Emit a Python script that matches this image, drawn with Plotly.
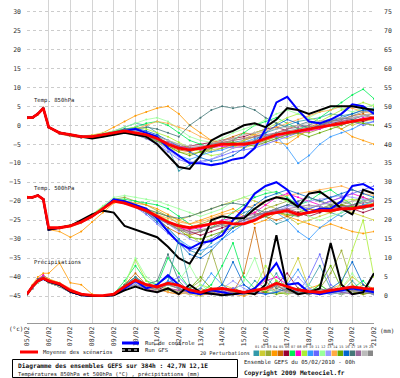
import plotly.graph_objects as go

# ---------------- data ----------------
days = [0, 0.25, 0.5, 0.75, 1, 1.5, 2, 2.5, 3, 3.5, 4, 4.5, 5, 5.5, 6, 6.5, 7, 7.5,
        8, 8.5, 9, 9.5, 10, 10.5, 11, 11.5, 12, 12.5, 13, 13.5, 14, 14.5, 15, 15.5, 16]
date_days = list(range(17))
date_labels = ["05/02", "06/02", "07/02", "08/02", "09/02", "10/02", "11/02", "12/02", "13/02",
               "14/02", "15/02", "16/02", "17/02", "18/02", "19/02", "20/02", "21/02"]
left_ticks = [30, 25, 20, 15, 10, 5, 0, -5, -10, -15, -20, -25, -30, -35, -40, -45]
right_ticks = [75, 70, 65, 60, 55, 50, 45, 40, 35, 30, 25, 20, 15, 10, 5, 0]

member_names = ["01", "02", "03", "04", "05", "06", "07", "08", "09", "10",
                "11", "12", "13", "14", "15", "16", "17", "18", "19", "20"]
member_colors = ["#3399aa", "#cccc33", "#99aa33", "#ff9900", "#cc6600", "#990033", "#00ee55",
                 "#ff00cc", "#aaee33", "#3399ff", "#6666ff", "#99ff99", "#9999ff", "#ffaa44",
                 "#66aa00", "#0066cc", "#447777", "#996699", "#bbbbbb", "#888888"]

# Temperature 850 hPa (deg C)
t850_mean = [2, 2, 3, 4.5, -0.5, -2, -2.5, -3, -3, -2.5, -2, -1.5, -2, -2.5, -3.5, -5, -6, -6.5,
             -6, -5.5, -5, -5, -5, -4.5, -3.5, -2.5, -2, -1.5, -1, -0.5, 0, 0.5, 1, 1.5, 2]
t850_control = [2, 2, 3, 4.5, -0.5, -2, -2.5, -3, -3, -2.5, -2, -1.5, -1, -2, -3, -6, -8, -10,
                -10, -10.5, -10, -9, -8.5, -6, -1, 6, 7.5, 4, 1, 0.5, 1.5, 3, 5.5, 5, 3]
t850_gfs = [2, 2, 3, 4.5, -0.5, -2, -2.5, -3, -3.5, -3, -2.5, -2, -2.5, -3, -5, -8, -11, -11.5,
            -8, -4, -2.5, -1.5, 0, 0.5, -0.5, 1.5, 4.5, 4, 3, 4, 5, 5, 5, 4.5, 4]
t850_members = [
    [2.2, 2.0, 3.2, 4.3, -0.3, -2.2, -2.8, -3.2, -3.0, -2.4, -1.5, -0.5, 0.5, 0.0, -2.0, -6.0, -12.0, -10.5, -8.0, -6.0, -5.0, -4.5, -4.0, -3.0, -2.0, -1.0, 0.0, 1.0, 1.5, 2.0, 3.0, 2.5, 3.0, 4.0, 4.5],
    [1.8, 2.1, 2.8, 4.6, -0.6, -1.8, -2.4, -2.9, -3.1, -2.7, -2.2, -1.8, -2.5, -3.5, -4.5, -6.0, -7.0, -7.5, -7.0, -6.5, -6.0, -5.5, -6.0, -5.0, -4.0, -3.0, -3.5, -2.5, -1.5, -0.5, 0.5, 1.0, 0.0, 1.0, 1.5],
    [2.0, 1.9, 3.0, 4.4, -0.4, -2.0, -2.6, -3.0, -2.8, -2.2, -1.8, -1.0, -1.5, -2.0, -3.0, -4.0, -5.0, -6.0, -6.5, -7.0, -6.0, -5.0, -4.5, -5.0, -4.0, -3.0, -2.0, -1.5, -2.0, -1.0, 0.0, -1.0, 0.5, 1.5, 2.0],
    [2.1, 2.2, 3.1, 4.5, -0.5, -2.1, -2.5, -2.8, -2.6, -2.0, -0.5, 1.0, 2.5, 3.5, 4.5, 5.0, 3.0, 0.0, -2.0, -4.0, -5.0, -5.5, -4.0, -3.0, -3.5, -4.5, -5.0, -3.0, -1.0, 0.0, 1.0, -1.0, -3.0, -4.0, -5.0],
    [1.9, 2.0, 2.9, 4.7, -0.7, -2.3, -2.9, -3.3, -3.2, -2.8, -2.5, -2.0, -2.5, -3.0, -4.0, -5.5, -6.5, -7.0, -6.0, -5.0, -4.0, -3.0, -2.0, -2.5, -3.0, -2.0, -1.0, 0.0, -0.5, 0.5, 1.0, 1.5, 2.5, 3.0, 2.0],
    [2.0, 2.1, 3.0, 4.5, -0.5, -1.9, -2.4, -3.0, -3.1, -2.6, -2.0, -1.5, -1.0, -2.0, -3.5, -5.0, -6.0, -5.5, -5.0, -4.5, -4.0, -3.5, -3.0, -2.0, -1.0, -0.5, -1.5, -2.0, -1.0, 0.0, 0.5, 1.0, 1.5, 1.0, 2.0],
    [2.2, 2.0, 3.1, 4.4, -0.4, -2.0, -2.7, -3.1, -2.9, -2.3, -1.8, -1.2, -0.5, 0.5, 1.0, 0.0, -2.0, -4.0, -5.0, -6.0, -5.0, -4.0, -2.0, 0.0, 1.0, 2.0, 0.5, -1.0, 0.0, 2.0, 4.0, 6.0, 8.0, 9.5, 7.0],
    [2.0, 2.2, 3.0, 4.6, -0.6, -2.1, -2.6, -3.0, -3.0, -2.5, -2.0, -1.7, -2.0, -2.5, -3.5, -4.5, -5.5, -6.0, -6.5, -6.0, -5.5, -6.0, -5.5, -4.5, -3.5, -3.0, -2.5, -2.0, -1.5, -1.0, 0.0, 0.0, 1.0, 2.0, 1.5],
    [1.9, 2.0, 2.9, 4.5, -0.3, -1.9, -2.5, -2.9, -2.8, -2.3, -1.7, -1.0, -0.5, -1.0, -2.0, -3.0, -4.5, -6.0, -7.0, -8.0, -7.5, -6.0, -4.0, -2.0, -1.0, 0.5, 2.0, 3.0, 2.0, 1.0, 2.5, 4.0, 5.0, 6.0, 5.0],
    [2.1, 2.1, 3.1, 4.3, -0.5, -2.0, -2.6, -3.1, -3.0, -2.4, -1.9, -1.3, -1.5, -2.5, -4.0, -6.0, -8.0, -9.0, -8.0, -7.0, -6.5, -5.5, -4.5, -3.5, -2.5, -3.0, -6.0, -10.0, -8.0, -5.0, -3.0, -2.0, -1.0, 0.5, 1.0],
    [2.0, 1.9, 3.0, 4.5, -0.5, -2.2, -2.7, -3.2, -3.2, -2.7, -2.2, -1.8, -2.5, -3.5, -5.0, -7.0, -9.0, -10.0, -9.5, -9.0, -8.0, -7.0, -6.5, -6.0, -5.0, -4.0, -3.0, -2.0, -1.0, -0.5, 0.0, 0.5, 1.0, 0.0, 1.0],
    [2.1, 2.0, 3.1, 4.4, -0.4, -2.0, -2.5, -2.9, -2.7, -2.1, -1.5, -0.5, 0.5, 1.5, 2.0, 1.0, -1.0, -3.0, -4.0, -4.5, -3.5, -2.0, -1.0, 0.0, 1.5, 3.0, 4.0, 3.0, 2.0, 3.5, 5.0, 4.5, 3.5, 4.5, 5.5],
    [2.0, 2.1, 3.0, 4.5, -0.5, -2.0, -2.6, -3.0, -2.9, -2.4, -1.9, -1.5, -2.0, -3.0, -4.5, -6.5, -8.5, -9.5, -10.0, -9.0, -7.5, -6.0, -5.5, -5.0, -4.5, -3.5, -2.5, -1.5, -1.0, -0.5, 0.5, 1.5, 2.0, 2.5, 3.0],
    [1.9, 2.0, 2.9, 4.6, -0.6, -2.1, -2.7, -3.1, -3.1, -2.6, -2.1, -1.6, -1.0, 0.0, 1.0, 0.5, -0.5, -1.5, -3.0, -4.0, -4.5, -4.0, -3.5, -2.5, -1.5, -0.5, 0.5, 1.5, 2.5, 3.5, 4.0, 5.0, 4.5, 3.5, 3.0],
    [2.0, 2.0, 3.0, 4.5, -0.4, -2.0, -2.5, -3.0, -2.9, -2.4, -2.0, -1.6, -2.2, -3.2, -4.2, -5.5, -7.0, -8.0, -7.0, -6.0, -5.0, -4.5, -5.0, -5.5, -4.5, -3.5, -2.5, -2.0, -3.0, -2.0, -1.0, 0.0, 1.0, 0.5, 0.0],
    [2.1, 2.1, 3.0, 4.4, -0.5, -2.1, -2.6, -3.1, -3.0, -2.5, -1.8, -1.0, -0.8, -1.5, -2.5, -4.0, -5.5, -7.0, -8.5, -9.5, -9.0, -8.0, -6.0, -4.0, -2.0, 0.0, 1.5, 0.5, -1.0, 0.0, 1.0, 2.0, 3.0, 4.0, 3.5],
    [2.0, 2.0, 3.0, 4.5, -0.5, -2.0, -2.6, -3.0, -3.0, -2.5, -2.0, -1.5, -1.0, -0.5, -1.0, -2.0, -3.0, 0.0, 2.0, 4.0, 5.0, 4.5, 5.0, 4.0, 2.0, 0.5, -0.5, 0.0, 1.0, 0.5, 1.5, 2.0, 1.5, 2.5, 3.0],
    [1.9, 2.1, 2.9, 4.5, -0.5, -1.9, -2.5, -2.9, -2.9, -2.4, -2.0, -1.5, -2.0, -3.0, -3.5, -4.5, -5.5, -6.0, -5.5, -5.0, -4.5, -4.0, -3.5, -3.0, -2.5, -2.0, -1.0, -0.5, 0.0, 1.0, 1.5, 1.0, 2.0, 2.5, 2.0],
    [2.0, 2.0, 3.1, 4.4, -0.4, -2.0, -2.5, -3.0, -2.9, -2.4, -1.9, -1.4, -1.5, -2.0, -3.0, -4.0, -5.0, -5.5, -5.5, -5.0, -4.0, -3.5, -2.5, -2.0, -1.5, -1.0, -0.5, 0.0, 0.5, 1.0, 1.5, 2.0, 2.0, 2.5, 3.0],
    [2.1, 2.0, 3.0, 4.5, -0.5, -2.1, -2.6, -3.0, -3.0, -2.5, -2.1, -1.7, -2.3, -3.0, -4.0, -5.0, -6.0, -6.5, -6.0, -5.0, -4.5, -5.0, -4.5, -4.0, -3.0, -2.0, -1.5, -1.0, -0.5, 0.0, 1.0, 1.5, 2.5, 3.5, 4.0],
]

# Temperature 500 hPa (deg C)
t500_mean = [-19, -19, -18.5, -19.5, -27, -27, -26.5, -25.5, -24, -22, -20, -20.5, -21.5, -22.5,
             -24, -25.5, -26.5, -27, -26.5, -26, -25.5, -26, -26, -25, -23.5, -23, -22.5, -23.5,
             -23, -22.5, -22.5, -22, -22, -21.5, -21]
t500_control = [-19, -19, -18.5, -19.5, -27.5, -27, -26.5, -25.5, -24, -22, -19.5, -20, -21, -22,
                -24.5, -28, -31, -32.5, -31, -30.5, -29, -25, -22, -18, -16, -15, -17, -21, -23,
                -22, -22, -20, -16, -15.5, -17]
t500_gfs = [-19, -19, -18.5, -19.5, -27.5, -27, -26.5, -25, -23.5, -22.5, -23, -26.5, -27.5,
            -28.5, -29.5, -32, -35, -36.5, -32, -25, -24, -24.5, -24.5, -22, -20, -19, -19.5,
            -21.5, -18, -17.5, -19.5, -22, -23.5, -17, -18]
t500_members = [
    [-19.2, -19, -18.6, -19.4, -27.6, -27.2, -26.6, -25.4, -23.8, -21.8, -19.8, -20, -21, -22.5, -24.5, -27, -30, -33, -34, -31, -28, -25, -23, -22, -24, -26, -25, -23, -22, -21, -23, -24, -22, -21, -22],
    [-18.8, -19.1, -18.4, -19.6, -27.4, -26.8, -26.4, -25.6, -24.2, -22.2, -20.2, -20.5, -21.5, -22, -23, -24, -25, -24, -23, -22, -21, -20, -19, -20, -21, -22, -24, -26, -25, -24, -23, -22, -23, -24, -25],
    [-19, -18.9, -18.5, -19.5, -27.3, -27, -26.3, -25.2, -23.5, -21.5, -19.5, -19, -20, -21, -22.5, -24, -26, -27, -26, -25, -26, -27, -26, -24, -22, -21, -20, -21, -22, -23, -22, -21, -20, -19, -20],
    [-19.1, -19, -18.6, -19.5, -27.5, -28, -29.5, -28, -25.5, -23, -20.5, -20, -20.5, -21, -22, -23.5, -25, -26, -25, -24, -23, -22, -24, -26, -25, -23, -24, -25, -26, -27, -26, -27, -28, -28.5, -28],
    [-18.9, -19.1, -18.5, -19.4, -27.6, -27.1, -26.5, -25.5, -24, -22, -20, -20.5, -21.5, -23, -25, -27, -28.5, -29, -28, -27, -26, -25, -24, -23, -24, -25, -24, -23, -22, -22.5, -23, -22, -21.5, -21, -20.5],
    [-19, -19, -18.5, -19.5, -27.4, -27, -26.5, -25.3, -23.8, -21.9, -19.9, -20.2, -21.2, -22.5, -24, -25.5, -27, -28, -29, -28, -27, -26, -25, -24, -23, -22.5, -22, -23, -24, -23, -22, -21, -22, -23, -22],
    [-19.1, -18.9, -18.5, -19.5, -27.5, -26.9, -26.4, -25.3, -23.6, -21.5, -19.5, -19.5, -20, -20.5, -21, -22, -24, -26, -28, -27, -25, -23, -21, -19, -18, -17.5, -19, -21, -20, -18, -17, -19, -21, -20, -19],
    [-19, -19.1, -18.6, -19.6, -27.6, -27.1, -26.6, -25.6, -24.1, -22.1, -20.1, -20.4, -21.4, -22.6, -24, -25.5, -27, -27.5, -27, -26, -25, -24.5, -24, -23, -21, -19, -18, -19, -20, -21, -20, -19, -18, -19, -20],
    [-19, -19, -18.5, -19.5, -27.5, -27, -26.4, -25.2, -23.6, -21.6, -19.6, -19.8, -20.8, -22, -23.5, -25, -27, -29, -31, -30, -28, -26, -24, -22, -20, -19, -20, -22, -23, -22, -21, -20, -19.5, -20, -21],
    [-19.1, -19, -18.5, -19.5, -27.5, -27.1, -26.5, -25.4, -23.9, -21.9, -19.9, -20.3, -21.3, -23, -25, -27.5, -30, -32, -33, -32, -30, -28, -26, -25, -24, -23, -25, -28, -30, -27, -25, -23, -22, -21, -20],
    [-19, -19, -18.6, -19.4, -27.4, -27, -26.6, -25.5, -24, -22, -20, -20.6, -21.6, -23.5, -26, -28.5, -31, -33, -32, -30, -28, -26, -25, -24, -23, -22, -21, -21.5, -22, -21, -20, -19, -18, -17, -16],
    [-18.9, -19, -18.5, -19.5, -27.5, -27, -26.4, -25.2, -23.5, -21.2, -19, -18.5, -19, -19.5, -20, -21, -22, -23, -24, -23, -22, -20, -19, -18, -17, -18, -20, -22, -24, -25, -24, -23, -22, -20, -21],
    [-19, -19, -18.5, -19.5, -27.5, -27, -26.5, -25.5, -24, -22, -20, -20.5, -21.5, -23, -24.5, -26, -28, -30, -31, -30.5, -29, -27, -25.5, -24.5, -23.5, -22.5, -21.5, -20.5, -20, -19.5, -19, -18.5, -19, -19.5, -20],
    [-19.1, -19, -18.5, -19.5, -27.6, -27.2, -26.8, -25.8, -24.3, -22.3, -20.3, -20.6, -21.4, -22.4, -23.5, -24.5, -25.5, -26, -25.5, -24.5, -23.5, -23, -22, -21, -20, -19, -18.5, -18, -17.5, -17, -16.5, -16, -17, -18, -18.5],
    [-19, -19.1, -18.5, -19.5, -27.5, -27, -26.5, -25.4, -23.8, -21.8, -19.8, -20.1, -21.1, -22.4, -24, -25.5, -27.5, -29.5, -30, -29, -28, -27, -26, -25, -24, -23, -23.5, -24, -23, -22, -21.5, -21, -21.5, -22, -21],
    [-19, -19, -18.5, -19.5, -27.5, -27, -26.5, -25.5, -24, -22, -20, -20.4, -21.4, -23, -25.5, -28, -31, -34, -35, -33, -30, -27, -24, -21, -19, -18, -17, -18, -19, -20, -19, -18, -17, -18, -19],
    [-19, -19, -18.5, -19.5, -27.5, -27, -26.5, -25.4, -23.9, -21.9, -19.9, -20.2, -21.2, -22.2, -23.2, -24, -24.5, -24, -23, -22, -21, -20.5, -21, -22, -23, -22, -21, -20, -19, -20, -21, -22, -21, -20, -19.5],
    [-19, -19, -18.5, -19.5, -27.5, -27, -26.5, -25.5, -24, -22, -20, -20.5, -21.5, -22.8, -24.3, -26, -27.5, -28.5, -28, -27, -26, -25, -24, -23.5, -23, -22.5, -22, -21.5, -21, -21.5, -22, -21.5, -21, -20.5, -20],
    [-19, -19, -18.5, -19.5, -27.5, -27, -26.5, -25.4, -23.9, -21.9, -19.9, -20.3, -21.3, -22.6, -24, -25.5, -26.5, -27, -26.5, -26, -25.5, -25, -24.5, -24, -23.5, -23, -22.5, -22, -21.5, -21, -20.5, -20.5, -20, -20, -19.5],
    [-19, -19, -18.5, -19.5, -27.5, -27, -26.5, -25.5, -24, -22, -20, -20.5, -21.5, -23, -24.5, -26, -27.5, -28, -27.5, -27, -26.5, -26, -25, -24, -23, -22, -23, -24, -23, -22, -21, -20, -21, -22, -21],
]

# Precipitation (mm, right axis)
precip_mean = [0.5, 2.5, 4, 4.7, 4, 3.2, 1.5, 0.5, 0.2, 0.1, 0.5, 2.5, 4.2, 3, 2.4, 3.4, 2.8, 1.6,
               1.0, 1.8, 2.0, 1.5, 1.0, 1.5, 2.0, 3.4, 2.5, 1.6, 1.2, 1.0, 1.5, 2.0, 2.4, 2.0, 1.8]
precip_control = [0.5, 2.5, 4, 4.5, 3.8, 3, 1.2, 0.3, 0, 0, 0.3, 2, 4, 2, 3, 5.5, 3, 1, 0.5, 1.5,
                  1, 0.5, 0.8, 2, 5, 8.7, 3, 3.4, 1, 0.5, 1, 1.5, 2, 1.5, 1]
precip_gfs = [0.5, 2.5, 4, 4.6, 3.8, 3, 1.2, 0.3, 0, 0, 0.2, 1.5, 2.5, 1.5, 1, 2, 0.5, 3, 1, 0.5,
              0.2, 0.5, 1, 0.5, 3, 16, 2, 0.5, 1, 2, 14, 3, 0.5, 1, 6]
precip_members = [
    [0.5, 2, 4, 5, 4, 3, 1, 0.2, 0, 0, 0.5, 3, 5, 2, 1, 4, 15, 3, 1, 0.5, 2, 1, 0.5, 4, 2, 6, 1, 0.5, 3, 8, 2, 1, 4, 1, 0.5],
    [0.4, 2.5, 4.5, 5, 3.5, 2.5, 1, 0.3, 0, 0, 0.3, 2, 3, 2, 3, 2, 1, 0.5, 0, 1, 3, 2, 1, 0.5, 1, 2, 4, 10, 2, 1, 0.5, 2, 5, 3, 1],
    [0.5, 2, 3.5, 4.5, 4, 3, 1.5, 0.5, 0, 0, 0.5, 2.5, 4, 3, 2, 1.5, 1, 2, 4, 12, 3, 1, 0.5, 1, 2, 3, 1, 0.5, 1, 2, 6, 12, 3, 1, 2],
    [0.6, 3, 5, 6, 6, 8.7, 3.5, 3, 0.5, 0, 0.3, 2, 3, 2, 1.5, 2, 1, 0.5, 1, 2, 1, 0.5, 0, 1, 2, 1, 0.5, 1, 2, 3, 1, 0.5, 1, 3, 2],
    [0.5, 2, 4, 5.5, 4.5, 3, 1, 0.2, 0, 0, 0.5, 3, 6, 3, 2, 1, 0.5, 1, 2, 1, 0.5, 1, 6, 18, 4, 1, 0.5, 2, 1, 0.5, 1, 2, 1, 0.5, 1],
    [0.5, 2.5, 4, 4.5, 3.5, 2.5, 1, 0.2, 0, 0, 0.3, 2, 4, 2.5, 1.5, 3, 2, 1, 0.5, 0.5, 1, 2, 1, 0.5, 1, 3, 6, 2, 1, 0.5, 1, 2, 1.5, 1, 0.5],
    [0.4, 2, 3.5, 4.5, 4, 3, 1.5, 0.3, 0, 0, 0.5, 4, 8, 4, 3, 10, 6, 2, 1, 3, 8, 14, 5, 2, 1, 4, 2, 1, 0.5, 3, 1, 0.5, 2, 4, 1],
    [0.5, 2.5, 4.5, 5.5, 4, 2.5, 1, 0.2, 0, 0, 0.3, 2, 3, 2, 1, 2, 1.5, 1, 0.5, 2, 1, 0.5, 1, 2, 4, 5, 3, 1, 0.5, 1, 2, 1, 0.5, 1, 1.5],
    [0.5, 2, 4, 5, 4.5, 3.5, 1.5, 0.4, 0, 0, 0.5, 3, 9.5, 4, 2, 3, 2, 1, 3, 2, 1, 0.5, 1, 2, 8, 4, 2, 1, 0.5, 2, 1, 3, 12, 20, 5],
    [0.5, 2, 4, 4.5, 3.5, 2.5, 1, 0.2, 0, 0, 0.4, 2.5, 5, 3, 2, 4, 3, 1, 2, 6, 3, 1, 0.5, 1, 2, 1, 3, 7, 2, 1, 0.5, 1, 2, 1, 0.5],
    [0.5, 2.5, 4, 5, 4, 3, 1, 0.3, 0, 0, 0.3, 2, 4, 2, 2.5, 3.5, 5, 2, 1, 0.5, 1, 2, 3, 1, 0.5, 1, 2, 1, 5, 11, 3, 1, 0.5, 1, 2],
    [0.5, 2, 3.5, 4.5, 4, 3, 1.5, 0.3, 0, 0, 0.5, 3, 10, 5, 3, 2, 4, 8, 3, 1, 2, 1, 4, 10, 2, 1, 0.5, 1, 3, 1, 0.5, 2, 6, 2, 1],
    [0.5, 2.5, 4, 5, 4, 3, 1, 0.2, 0, 0, 0.3, 2, 3.5, 2, 2, 3, 2, 1, 0.5, 1, 2, 4, 2, 1, 0.5, 1, 2, 5, 2, 1, 0.5, 1, 1.5, 1, 0.5],
    [0.5, 2, 4, 5, 4.5, 3.5, 2, 0.5, 0, 0, 0.3, 2, 4, 3, 2, 1, 0.5, 1, 0.5, 1, 2, 1, 0.5, 1, 1.5, 3, 1.5, 1, 0.5, 1, 2, 3, 1, 0.5, 1],
    [0.5, 2.5, 4, 4.5, 3.5, 2.5, 1, 0.2, 0, 0, 0.4, 2.5, 4.5, 2.5, 1.5, 2, 1, 2, 5, 2, 1, 0.5, 1, 2, 1, 0.5, 1, 2, 1, 3, 8, 2, 1, 0.5, 1],
    [0.5, 2, 4, 5, 4, 3, 1, 0.2, 0, 0, 0.3, 2, 3, 2, 3, 5, 2, 1, 0.5, 1, 3, 9, 3, 1, 0.5, 1, 2, 1, 0.5, 1, 2, 4, 9, 3, 1],
    [0.5, 2.5, 4.5, 5, 4, 3, 1.5, 0.3, 0, 0, 0.5, 3, 5, 3, 4, 11, 4, 1, 0.5, 1, 2, 1, 0.5, 2, 5, 2, 1, 0.5, 1, 2, 1, 0.5, 1, 2, 1],
    [0.5, 2, 4, 4.5, 4, 3, 1, 0.2, 0, 0, 0.3, 2, 4, 2.5, 1.5, 2, 1.5, 1, 0.5, 1, 1.5, 1, 0.5, 1, 2, 3, 1, 0.5, 1, 1.5, 2, 1, 0.5, 1, 1.5],
    [0.5, 2, 3.5, 4.5, 3.5, 2.5, 1, 0.2, 0, 0, 0.3, 2, 3, 2, 1.5, 2, 1, 0.5, 1, 1.5, 1, 0.5, 1, 1.5, 2, 1.5, 1, 0.5, 1, 1.5, 1, 0.5, 1, 1.5, 1],
    [0.5, 2.5, 4, 5, 4, 3, 1, 0.3, 0, 0, 0.4, 2.5, 4, 2.5, 2, 3, 2, 1, 0.5, 1, 2, 1, 0.5, 1, 2, 2.5, 1.5, 1, 0.5, 1, 1.5, 2, 1.5, 1, 0.5],
]

# ---------------- figure ----------------
W, H = 400, 378
L, R, T, B = 27, 374, 0, 323
FONT = "DejaVu Sans Mono"


def px(x):
    return (x - L) / (R - L)


def py(y):
    return (B - y) / (B - T)


fig = go.Figure()


def add_series(values, color, width, yaxis="y", markers=False):
    xs = days[:len(values)]
    fig.add_trace(go.Scatter(
        x=xs, y=values, yaxis=yaxis,
        mode="lines+markers" if markers else "lines",
        line=dict(color=color, width=width),
        marker=dict(size=2.0, color=color),
        hoverinfo="skip", showlegend=False, cliponaxis=True,
    ))


for group, ax in ((t850_members, "y"), (t500_members, "y"), (precip_members, "y2")):
    for vals, col in zip(group, member_colors):
        add_series(vals, col, 0.8, ax, markers=True)

for mean, ctrl, gfs, ax in ((t850_mean, t850_control, t850_gfs, "y"),
                            (t500_mean, t500_control, t500_gfs, "y"),
                            (precip_mean, precip_control, precip_gfs, "y2")):
    add_series(ctrl, "#0000ff", 2.0, ax)
    add_series(gfs, "#000000", 2.0, ax)
    add_series(mean, "#ff0000", 2.8, ax)

ylo, yhi = -52.1, 33.0

fig.update_layout(
    width=W, height=H,
    margin=dict(l=L, r=W - R, t=T, b=H - B, autoexpand=False),
    paper_bgcolor="white", plot_bgcolor="white",
    showlegend=False, hovermode=False,
    font=dict(family=FONT, size=6, color="#222222"),
    xaxis=dict(range=[0, 16], tickvals=date_days, ticktext=date_labels, tickangle=-90,
               showgrid=True, gridcolor="#d4d4d4", gridwidth=1, zeroline=False,
               showline=True, linecolor="#999999", linewidth=1, ticks="", automargin=False,
               tickfont=dict(family=FONT, size=6.5, color="#333333"), fixedrange=True),
    yaxis=dict(range=[ylo, yhi], tickvals=left_ticks, showgrid=True, gridcolor="#cccccc",
               griddash="dot", gridwidth=1, zeroline=False, ticks="", ticklabelstandoff=5,
               automargin=False,
               tickfont=dict(family=FONT, size=6.5, color="#333333"), fixedrange=True),
    yaxis2=dict(range=[ylo + 45, yhi + 45], tickvals=right_ticks, overlaying="y", side="right",
                showgrid=False, zeroline=False, ticks="", ticklabelstandoff=9, automargin=False,
                tickfont=dict(family=FONT, size=6.5, color="#333333"), fixedrange=True),
)

ann = []


def text(x, y, s, size=5.6, bold=False, xanchor="left", color="#222222"):
    if bold:
        s = "<b>" + s + "</b>"
    ann.append(dict(x=px(x), y=py(y), xref="paper", yref="paper", text=s, showarrow=False,
                    xanchor=xanchor, yanchor="middle",
                    font=dict(family=FONT, size=size, color=color)))


# labels inside the plot
text(32, 100, "Temp. 850hPa", 5.6)
text(32, 188, "Temp. 500hPa", 5.6)
text(32, 262, "Précipitations", 5.6)
text(7, 328, "(°c)", 6)
text(378, 330, "(mm)", 6)

shapes = []


def line(x0, y0, x1, y1, color, width, dash="solid"):
    shapes.append(dict(type="line", xref="paper", yref="paper", x0=px(x0), y0=py(y0),
                       x1=px(x1), y1=py(y1), line=dict(color=color, width=width, dash=dash)))


# legend lines
line(122, 343, 139, 343, "#0000ff", 3)
text(143, 343, "Run de controle", 5.5)
line(122, 350, 139, 350, "#000000", 4)
line(122, 350, 139, 350, "#ffffff", 1, "dot")
text(143, 350, "Run GFS", 5.5)
line(20, 352, 38, 352, "#ff0000", 3)
text(41, 352, "Moyenne des scénarios", 5.5)
text(198, 353, "20 Perturbations", 5.2)

bx0, bw = 253.5, 6.0
for k, (name, col) in enumerate(zip(member_names, member_colors)):
    x0 = bx0 + k * bw
    shapes.append(dict(type="rect", xref="paper", yref="paper", x0=px(x0), x1=px(x0 + bw - 0.5),
                       y0=py(356), y1=py(350.5), fillcolor=col, line=dict(width=0)))
    text(x0 + bw / 2, 346.5, name, 3.6, xanchor="center", color="#333333")

# bottom info box
shapes.append(dict(type="rect", xref="paper", yref="paper", x0=px(12.5), x1=px(237.5),
                   y0=py(377.5), y1=py(359.5), line=dict(color="#000000", width=1),
                   fillcolor="rgba(0,0,0,0)"))
text(16, 365.5, "Diagramme des ensembles GEFS sur 384h : 42,7N 12,1E", 6.2, bold=True,
     color="#111111")
text(16, 374.5, "Températures 850hPa et 500hPa (°C) , précipitations (mm)", 5.4)
text(242, 362, "Ensemble GEFS du 05/02/2010 - 00h", 5.6)
text(242, 373, "Copyright 2009 Meteociel.fr", 6.2, bold=True, color="#111111")

fig.update_layout(annotations=ann, shapes=shapes)
fig.write_html("out.html", config={"displayModeBar": False},
               post_script="document.body.style.margin='0px';document.body.style.padding='0px';"
                           "document.documentElement.style.overflow='hidden';")
